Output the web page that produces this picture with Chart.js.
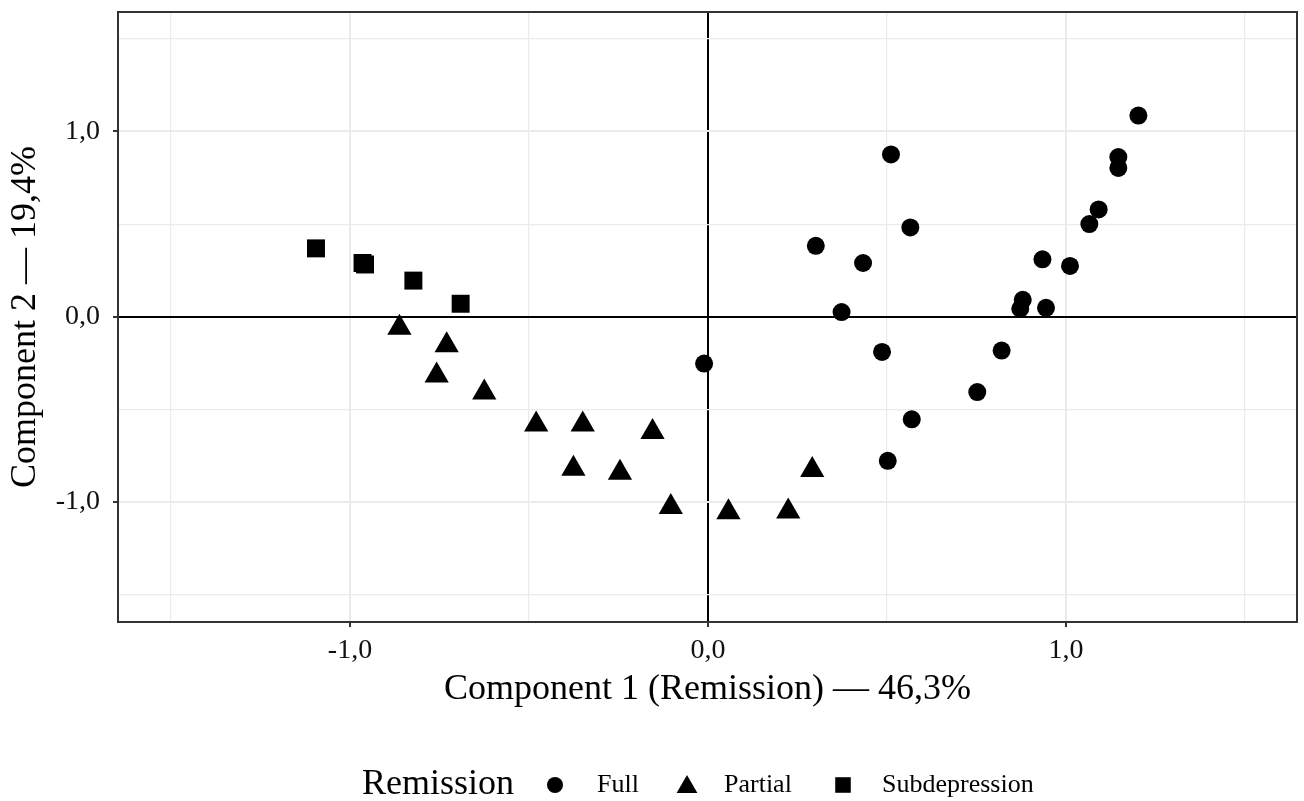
<!DOCTYPE html>
<html>
<head>
<meta charset="utf-8">
<script src="https://cdn.jsdelivr.net/npm/chart.js@4.4.1/dist/chart.umd.min.js"></script>
<style>
  html, body { margin: 0; padding: 0; background: #fff; }
  canvas { display: block; }
</style>
</head>
<body>
<canvas id="grafico" width="1304" height="801"></canvas>
<script>
// grupos de remissão e coordenadas nos dois componentes
const grupos = ['Full', 'Partial', 'Subdepression'];

const fullX = [-0.011, 0.301, 0.373, 0.433, 0.486, 0.502, 0.511, 0.565, 0.569, 0.752, 0.820,
               0.872, 0.879, 0.934, 0.944, 1.011, 1.065, 1.091, 1.146, 1.146, 1.202];
const fullY = [-0.253, 0.383, 0.025, 0.290, -0.190, -0.778, 0.876, 0.482, -0.554, -0.407, -0.183,
               0.043, 0.091, 0.310, 0.048, 0.274, 0.500, 0.579, 0.862, 0.803, 1.086];

const partialX = [-0.862, -0.730, -0.758, -0.625, -0.480, -0.350, -0.155, -0.376, -0.246, -0.104, 0.057, 0.224, 0.291];
const partialY = [-0.059, -0.154, -0.317, -0.409, -0.582, -0.582, -0.622, -0.821, -0.842, -1.027, -1.056, -1.052, -0.828];

const subX = [-1.095, -0.965, -0.958, -0.823, -0.691];
const subY = [0.369, 0.290, 0.282, 0.195, 0.070];

const ticksPrincipais = [-1, 0, 1];
const tituloX = 'Component 1 (Remission) \u2014 46,3%';
const tituloY = 'Component 2 \u2014 19,4%';
const tituloLegenda = 'Remission';

const FONTE = '"Liberation Serif", "Times New Roman", serif';

function juntar(xs, ys) {
  return xs.map((x, i) => ({ x: x, y: ys[i] }));
}

function ehPrincipal(v) {
  return ticksPrincipais.some(t => Math.abs(t - v) < 1e-6);
}

function rotulo(v) {
  if (!ehPrincipal(v)) return '';
  return v.toFixed(1).replace('.', ',');
}

// desenha o marcador no mesmo formato dos pontos
function desenharMarcador(ctx, tipo, x, y, r) {
  ctx.beginPath();
  if (tipo === 'circle') {
    ctx.arc(x, y, r, 0, Math.PI * 2);
  } else if (tipo === 'triangle') {
    ctx.moveTo(x, y - r);
    ctx.lineTo(x + r * Math.sqrt(3) / 2, y + r / 2);
    ctx.lineTo(x - r * Math.sqrt(3) / 2, y + r / 2);
    ctx.closePath();
  } else {
    const s = r * Math.SQRT1_2;
    ctx.rect(x - s, y - s, 2 * s, 2 * s);
  }
  ctx.fill();
}

// moldura do painel + legenda embaixo
const pluginPainel = {
  id: 'pluginPainel',
  afterDraw(chart) {
    const { ctx, chartArea } = chart;
    ctx.save();
    ctx.strokeStyle = '#333';
    ctx.lineWidth = 2;
    ctx.strokeRect(chartArea.left, chartArea.top, chartArea.right - chartArea.left, chartArea.bottom - chartArea.top);

    const y = 785;
    ctx.fillStyle = '#000';
    ctx.textBaseline = 'middle';
    ctx.textAlign = 'left';
    ctx.font = '36px ' + FONTE;
    ctx.fillText(tituloLegenda, 362, y);

    const itens = [
      { tipo: 'circle', r: 8, xm: 555, xt: 597 },
      { tipo: 'triangle', r: 12, xm: 687, xt: 724 },
      { tipo: 'rect', r: 11, xm: 843, xt: 882 }
    ];
    ctx.font = '26px ' + FONTE;
    itens.forEach((it, i) => {
      desenharMarcador(ctx, it.tipo, it.xm, y + (it.tipo === 'triangle' ? 2 : 0), it.r);
      ctx.fillText(grupos[i], it.xt, y);
    });
    ctx.restore();
  }
};

// zera a folga que o Chart.js reserva para os rótulos das pontas
function semFolga(s) {
  s.paddingTop = 0;
  s.paddingBottom = 0;
  s.paddingLeft = 0;
  s.paddingRight = 0;
}

function grafico_dispersao(config) {
  const { id, series } = config;
  const canvas = document.getElementById(id);

  const eixo = (titulo, posicao, afterFit, paddingTitulo, paddingTicks) => ({
    type: 'linear',
    position: posicao,
    min: -1.648,
    max: 1.645,
    afterFit: s => { afterFit(s); semFolga(s); },
    border: { display: false },
    grid: {
      color: ctx => (ctx.tick && ctx.tick.value === 0) ? '#000' : '#ebebeb',
      lineWidth: ctx => {
        const v = ctx.tick ? ctx.tick.value : 0.5;
        return ehPrincipal(v) ? 2 : 1.2;
      },
      tickColor: ctx => (ctx.tick && ehPrincipal(ctx.tick.value)) ? '#333' : 'rgba(0,0,0,0)',
      tickWidth: 2,
      tickLength: 5,
      drawTicks: true
    },
    ticks: {
      stepSize: 0.5,
      includeBounds: false,
      autoSkip: false,
      maxRotation: 0,
      padding: paddingTicks,
      color: '#111',
      font: { family: FONTE, size: 28 },
      callback: v => rotulo(v)
    },
    title: {
      display: true,
      text: titulo,
      color: '#000',
      font: { family: FONTE, size: 36 },
      padding: paddingTitulo
    }
  });

  return new Chart(canvas, {
    type: 'scatter',
    data: {
      datasets: series.map(s => ({
        label: s.nome,
        data: s.pontos,
        pointStyle: s.estilo,
        pointRadius: s.raio,
        pointHoverRadius: s.raio,
        pointBackgroundColor: '#000',
        pointBorderWidth: 0,
        showLine: false
      }))
    },
    options: {
      responsive: false,
      animation: false,
      layout: { autoPadding: false, padding: { top: 12, right: 7, bottom: 90, left: 0 } },
      scales: {
        x: eixo(tituloX, 'bottom', s => { s.height = 89; }, { top: 0, bottom: 0 }, 7),
        y: eixo(tituloY, 'left', s => { s.width = 118; }, { top: 4, bottom: 0 }, 13)
      },
      plugins: {
        legend: { display: false },
        tooltip: { enabled: false }
      }
    },
    plugins: [pluginPainel]
  });
}

grafico_dispersao({
  id: 'grafico',
  series: [
    { nome: grupos[0], pontos: juntar(fullX, fullY), estilo: 'circle', raio: 9 },
    { nome: grupos[1], pontos: juntar(partialX, partialY), estilo: 'triangle', raio: 14 },
    { nome: grupos[2], pontos: juntar(subX, subY), estilo: 'rect', raio: 12.7 }
  ]
});
</script>
</body>
</html>
